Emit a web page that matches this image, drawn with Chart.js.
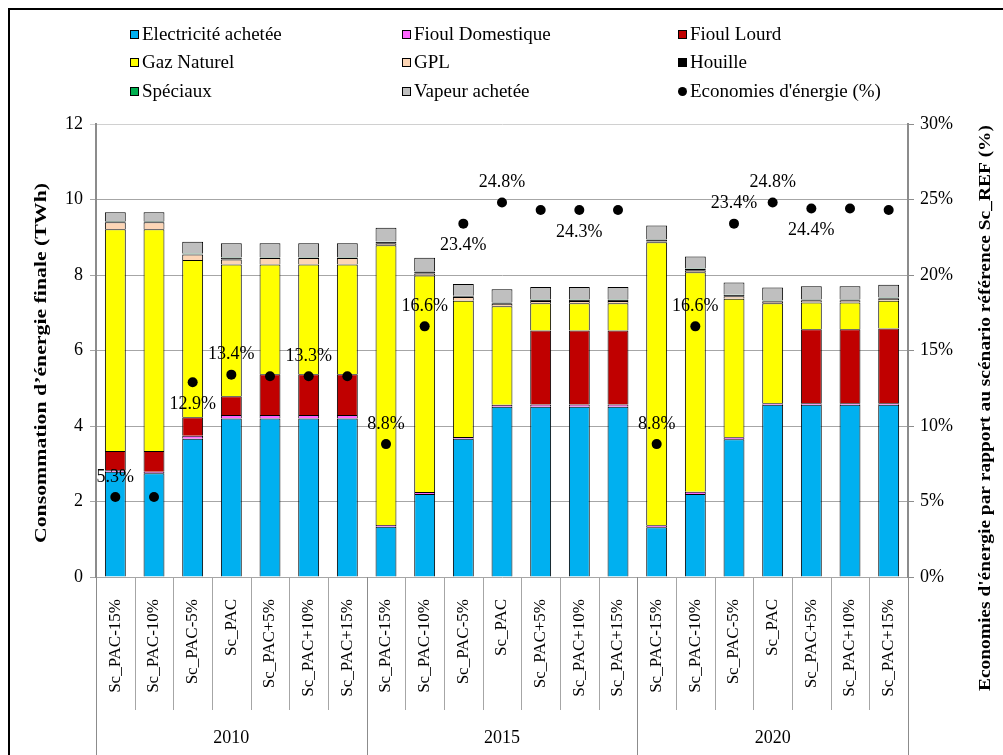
<!DOCTYPE html>
<html lang="fr">
  <head>
    <meta charset="UTF-8" />
    <title>Consommation d'énergie finale - scénarios PAC</title>
    <script src="https://cdn.jsdelivr.net/npm/chart.js@4"></script>
    <style>
      html, body { margin: 0; padding: 0; background: #fff; }
      #wrap { position: relative; width: 1003px; height: 755px; overflow: hidden; }
      #frame {
        position: absolute; left: 8px; top: 8px; width: 1100px; height: 900px;
        border-left: 2px solid #000; border-top: 2px solid #000;
      }
      .item {
        position: absolute; display: flex; align-items: center;
        font: 19px "Liberation Serif", "Times New Roman", serif; color: #000;
        white-space: nowrap;
      }
      .box { width: 7px; height: 7px; border: 1px solid #000; margin-right: 3px; }
      .dot { width: 9px; height: 9px; border-radius: 50%; background: #000; margin-right: 3px; }
    </style>
  </head>
  <body>
    <div id="wrap">
      <canvas id="chart" width="1003" height="755"></canvas>
      <div id="frame"></div>
      <div id="legend"></div>
    </div>

    <script>
      // Données ====================================================
      const categories = [
        "Sc_PAC-15%", "Sc_PAC-10%", "Sc_PAC-5%", "Sc_PAC", "Sc_PAC+5%", "Sc_PAC+10%", "Sc_PAC+15%",
        "Sc_PAC-15%", "Sc_PAC-10%", "Sc_PAC-5%", "Sc_PAC", "Sc_PAC+5%", "Sc_PAC+10%", "Sc_PAC+15%",
        "Sc_PAC-15%", "Sc_PAC-10%", "Sc_PAC-5%", "Sc_PAC", "Sc_PAC+5%", "Sc_PAC+10%", "Sc_PAC+15%",
      ];
      const years = ["2010", "2015", "2020"];

      // TWh
      const electricite = [
        2.79, 2.75, 3.66, 4.2, 4.2, 4.2, 4.2,
        1.33, 2.2, 3.66, 4.51, 4.51, 4.51, 4.51,
        1.32, 2.2, 3.65, 4.56, 4.56, 4.56, 4.56,
      ];
      const fioulDomestique = [
        0.04, 0.04, 0.08, 0.09, 0.09, 0.09, 0.09,
        0.05, 0.05, 0.05, 0.05, 0.06, 0.06, 0.06,
        0.05, 0.06, 0.05, 0.04, 0.04, 0.04, 0.04,
      ];
      const fioulLourd = [
        0.51, 0.55, 0.49, 0.5, 1.08, 1.08, 1.08,
        0, 0, 0, 0, 1.96, 1.96, 1.96,
        0, 0, 0, 0, 1.96, 1.96, 1.98,
      ];
      const gazNaturel = [
        5.87, 5.87, 4.17, 3.49, 2.91, 2.91, 2.91,
        7.41, 5.74, 3.61, 2.61, 0.72, 0.72, 0.72,
        7.5, 5.81, 3.67, 2.65, 0.71, 0.71, 0.74,
      ];
      const gpl = [
        0.19, 0.19, 0.14, 0.13, 0.17, 0.17, 0.17,
        0.04, 0.05, 0.1, 0.07, 0.06, 0.06, 0.06,
        0.02, 0.04, 0.07, 0.04, 0.05, 0.05, 0.05,
      ];
      const houille = [
        0.02, 0.02, 0.01, 0.05, 0.01, 0.01, 0.01,
        0.05, 0.05, 0.02, 0.03, 0.03, 0.03, 0.03,
        0.05, 0.05, 0.03, 0.03, 0.03, 0.03, 0.03,
      ];
      const speciaux = [
        0.01, 0.01, 0.02, 0.01, 0.01, 0.01, 0.01,
        0.01, 0.01, 0.01, 0.01, 0.01, 0.01, 0.01,
        0.01, 0.01, 0.01, 0.01, 0.01, 0.01, 0.01,
      ];
      const vapeur = [
        0.23, 0.23, 0.31, 0.37, 0.37, 0.37, 0.37,
        0.36, 0.36, 0.31, 0.34, 0.33, 0.33, 0.33,
        0.36, 0.32, 0.32, 0.34, 0.34, 0.34, 0.33,
      ];

      // % d'économies par rapport à Sc_REF
      const economies = [
        5.3, 5.3, 12.9, 13.4, 13.3, 13.3, 13.3,
        8.8, 16.6, 23.4, 24.8, 24.3, 24.3, 24.3,
        8.8, 16.6, 23.4, 24.8, 24.4, 24.4, 24.3,
      ];
      const economiesLabels = [
        "5.3%", null, "12.9%", "13.4%", null, "13.3%", null,
        "8.8%", "16.6%", "23.4%", "24.8%", null, "24.3%", null,
        "8.8%", "16.6%", "23.4%", "24.8%", "24.4%", null, null,
      ];

      const serif = '"Liberation Serif", "Times New Roman", serif';

      const series = [
        { label: "Electricité achetée", data: electricite, color: "#00B0F0" },
        { label: "Fioul Domestique", data: fioulDomestique, color: "#FF66FF" },
        { label: "Fioul Lourd", data: fioulLourd, color: "#C00000" },
        { label: "Gaz Naturel", data: gazNaturel, color: "#FFFF00" },
        { label: "GPL", data: gpl, color: "#FCD5B5" },
        { label: "Houille", data: houille, color: "#000000" },
        { label: "Spéciaux", data: speciaux, color: "#00B050" },
        { label: "Vapeur achetée", data: vapeur, color: "#BFBFBF" },
      ];

      // Légende HTML en 3 colonnes (ordre ligne par ligne)
      const legendItems = series
        .map((s) => ({ label: s.label, color: s.color, dot: false }))
        .concat([{ label: "Economies d'énergie (%)", color: "#000", dot: true }]);
      const legendCols = [130, 402, 678];
      const legendRows = [35, 63, 92];
      const legendEl = document.getElementById("legend");
      legendItems.forEach((it, i) => {
        const div = document.createElement("div");
        div.className = "item";
        div.style.left = legendCols[i % 3] + "px";
        div.style.top = legendRows[Math.floor(i / 3)] - 12 + "px";
        const mark = document.createElement("span");
        mark.className = it.dot ? "dot" : "box";
        if (!it.dot) mark.style.background = it.color;
        div.appendChild(mark);
        div.appendChild(document.createTextNode(it.label));
        legendEl.appendChild(div);
      });

      // Séparateurs d'axe, années, titres et étiquettes des points
      const decorations = {
        id: "decorations",
        afterDatasetsDraw(chart, args, opts) {
          const { ctx, chartArea } = chart;
          const x = chart.scales.x;
          const n = categories.length;
          const w = (x.right - x.left) / n;
          const base = chartArea.bottom;

          ctx.save();
          // lignes verticales sous l'axe
          for (let i = 0; i <= n; i++) {
            const px = Math.round(x.left + i * w) + 0.5;
            const long = i % 7 === 0;
            ctx.strokeStyle = long ? "#8C8C8C" : "#A6A6A6";
            ctx.lineWidth = 1;
            ctx.beginPath();
            ctx.moveTo(px, base);
            ctx.lineTo(px, long ? chart.height : base + 133);
            ctx.stroke();
          }
          // années
          ctx.fillStyle = "#000";
          ctx.font = "18px " + serif;
          ctx.textAlign = "center";
          ctx.textBaseline = "middle";
          years.forEach((y, g) => {
            ctx.fillText(y, x.left + (g * 7 + 3.5) * w, base + 161);
          });

          // étiquettes des économies
          const meta = chart.getDatasetMeta(series.length);
          ctx.font = "18px " + serif;
          meta.data.forEach((pt, i) => {
            const t = economiesLabels[i];
            if (!t) return;
            const dy = opts.below.includes(i) ? 22 : -20;
            ctx.fillText(t, pt.x, pt.y + dy);
          });

          // titres d'axes (étirés dans le sens du texte)
          ctx.font = "bold 16px " + serif;
          const drawTitle = (text, cx, cy, len) => {
            ctx.save();
            ctx.translate(cx, cy);
            ctx.rotate(-Math.PI / 2);
            const m = ctx.measureText(text).width;
            ctx.scale(len / m, 1);
            ctx.fillText(text, 0, 0);
            ctx.restore();
          };
          drawTitle("Consommation d’énergie finale (TWh)", 42, 363, 360);
          drawTitle("Economies d'énergie par rapport au scénario référence Sc_REF (%)", 986, 408, 566);
          ctx.restore();
        },
      };

      const datasets = series.map((s) => ({
        label: s.label,
        data: s.data,
        backgroundColor: s.color,
        borderColor: "#000",
        borderWidth: 1,
        barPercentage: 0.54,
        categoryPercentage: 1,
        yAxisID: "y",
      }));
      datasets.push({
        type: "line",
        label: "Economies d'énergie (%)",
        data: economies,
        yAxisID: "y1",
        showLine: false,
        pointRadius: 5,
        pointBackgroundColor: "#000",
        pointBorderWidth: 0,
        order: -1,
      });

      new Chart(document.getElementById("chart"), {
        type: "bar",
        data: { labels: categories, datasets },
        plugins: [decorations],
        options: {
          responsive: false,
          animation: false,
          layout: { padding: { top: 124, left: 0, right: 0, bottom: 0 } },
          plugins: {
            legend: { display: false },
            tooltip: { enabled: false },
            decorations: { below: [2, 9, 12, 18] },
          },
          scales: {
            x: {
              stacked: true,
              grid: { display: false },
              border: { display: false },
              ticks: {
                color: "#000",
                font: { family: serif, size: 17 },
                minRotation: 90,
                maxRotation: 90,
                autoSkip: false,
                padding: 14,
              },
              afterFit(s) { s.height = 178; },
            },
            y: {
              stacked: true,
              min: 0,
              max: 12,
              ticks: { stepSize: 2, color: "#000", font: { family: serif, size: 18 }, padding: 7 },
              grid: {
                color: (c) => (c.tick && c.tick.value === 12 ? "#D0D0D0" : "#A6A6A6"),
                tickLength: 6,
              },
              border: { color: "#8C8C8C", width: 2 },
              afterFit(s) { s.width = 96; },
            },
            y1: {
              position: "right",
              min: 0,
              max: 30,
              ticks: {
                stepSize: 5,
                color: "#000",
                font: { family: serif, size: 18 },
                padding: 6,
                callback: (v) => v + "%",
              },
              grid: { drawOnChartArea: false, color: "#8C8C8C", tickLength: 6 },
              border: { color: "#8C8C8C", width: 2 },
              afterFit(s) { s.width = 95; },
            },
          },
        },
      });
    </script>
  </body>
</html>
